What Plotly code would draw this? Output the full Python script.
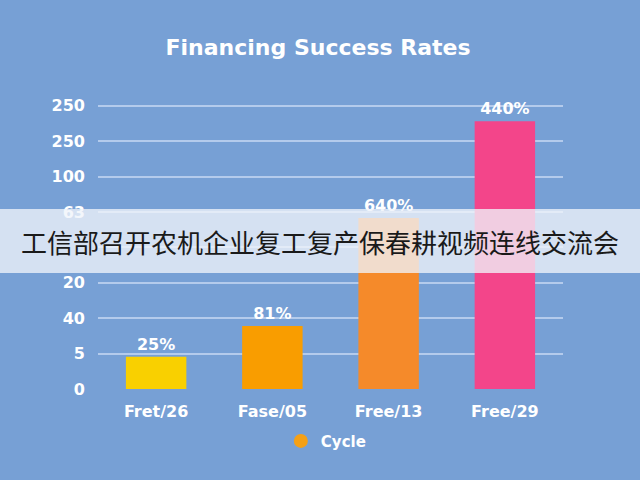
import plotly.graph_objects as go

categories = ["Fret/26", "Fase/05", "Free/13", "Free/29"]
bar_heights = [0.91, 1.78, 4.83, 7.56]
bar_labels = ["25%", "81%", "640%", "440%"]
bar_colors = ["#f9d000", "#f99d00", "#f58a2a", "#f3458a"]
tick_positions = [0, 1, 2, 3, 4, 5, 6, 7, 8]
tick_labels = ["0", "5", "40", "20", "", "63", "100", "250", "250"]
legend_name = "Cycle"
title_text = "Financing Success Rates"
banner_text = "工信部召开农机企业复工复产保春耕视频连线交流会"

BG = "#77a0d5"
FONT = "DejaVu Sans"

fig = go.Figure()
fig.add_trace(go.Bar(
    x=categories, y=bar_heights,
    marker=dict(color=bar_colors, line=dict(width=0)),
    text=bar_labels, texttemplate="<b>%{text}</b>",
    textposition="outside", cliponaxis=False,
    textfont=dict(family=FONT, size=16, color="white"),
    width=0.52, showlegend=False,
))
fig.add_trace(go.Scatter(
    x=[None], y=[None], mode="markers", name="<b>" + legend_name + "</b>",
    marker=dict(color="#f5a015", size=14, symbol="circle"),
))

fig.update_layout(
    width=640, height=480,
    paper_bgcolor=BG, plot_bgcolor=BG,
    margin=dict(l=98, r=77, t=104, b=91),
    title=dict(text="<b>" + title_text + "</b>", x=0.497, xanchor="center",
               y=1 - 47 / 480, yanchor="middle",
               font=dict(family=FONT, size=22, color="white")),
    font=dict(family=FONT, color="white"),
    showlegend=True,
    legend=dict(orientation="h", x=0.49, xanchor="center", y=-0.125, yanchor="top",
                font=dict(family=FONT, size=15, color="white"),
                bgcolor="rgba(0,0,0,0)"),
    xaxis=dict(showgrid=False, zeroline=False, showline=False,
               tickmode="array", tickvals=categories,
               ticktext=["<b>" + c + "</b>" for c in categories],
               tickfont=dict(family=FONT, size=16, color="white"),
               ticks="", ticklabelstandoff=11),
    yaxis=dict(range=[0, 8.05], tickmode="array", tickvals=tick_positions,
               ticktext=["<b>" + t + "</b>" if t else "" for t in tick_labels],
               tickfont=dict(family=FONT, size=16, color="white"),
               showgrid=True, gridcolor="#b4cbec", gridwidth=2,
               zeroline=False, showline=False, ticks="", ticklabelstandoff=12),
)

plot_top, plot_bottom, plot_left, plot_right = 104, 389, 98, 563
ph = plot_bottom - plot_top
pw = plot_right - plot_left
band_top, band_bottom = 209, 273
fig.add_shape(type="rect", xref="paper", yref="paper",
              x0=(0 - plot_left) / pw, x1=(640 - plot_left) / pw,
              y0=(plot_bottom - band_bottom) / ph, y1=(plot_bottom - band_top) / ph,
              fillcolor="rgba(240,243,250,0.78)", line=dict(width=0), layer="above")
fig.add_annotation(text=banner_text, xref="paper", yref="paper",
                   x=(320 - plot_left) / pw, y=(plot_bottom - 241) / ph,
                   showarrow=False, xanchor="center", yanchor="middle",
                   font=dict(family="Noto Sans CJK SC", size=26, color="#1a1a1a"))

fig.write_html("out.html", config={"displayModeBar": False},
               post_script="document.body.style.margin='0';document.body.style.background='%s';" % BG)
